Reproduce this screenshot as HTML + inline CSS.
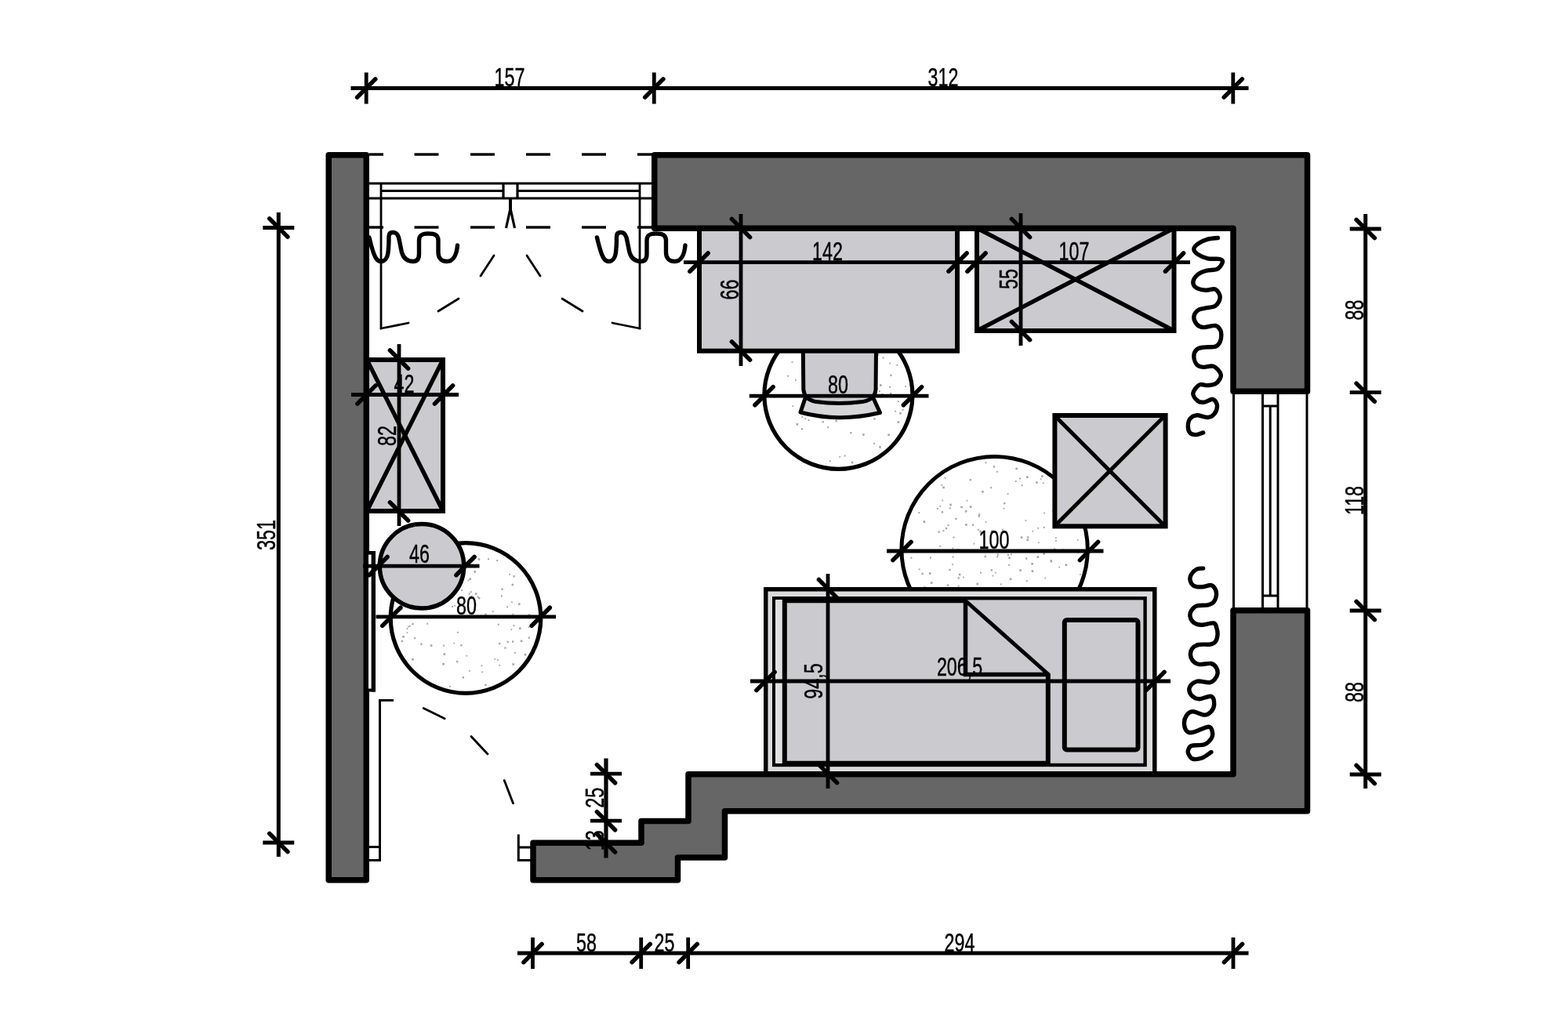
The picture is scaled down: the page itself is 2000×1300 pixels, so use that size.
<!DOCTYPE html>
<html lang="en"><head><meta charset="utf-8"><title>Floor plan</title>
<style>html,body{margin:0;padding:0;background:#fff;}body{width:2000px;height:1300px;}svg{display:block;will-change:transform;}</style>
</head><body>
<svg width="2000" height="1300" viewBox="0 0 2000 1300" font-family="'Liberation Sans', sans-serif" fill="#000">
<rect width="2000" height="1300" fill="#fff"/>
<circle cx="594" cy="788.5" r="95.8" fill="#fff" stroke="none"/>
<g fill="#a6a6a6">
<rect x="578.4" y="819.7" width="1.8" height="1.8"/>
<rect x="653.0" y="817.4" width="2.3" height="2.3"/>
<rect x="519.7" y="745.9" width="2.0" height="2.0"/>
<rect x="651.5" y="802.3" width="1.8" height="1.8"/>
<rect x="597.9" y="855.0" width="1.8" height="1.8"/>
<rect x="608.7" y="760.5" width="2.0" height="2.0"/>
<rect x="547.3" y="738.3" width="1.8" height="1.8"/>
<rect x="543.9" y="762.2" width="2.0" height="2.0"/>
<rect x="673.7" y="812.5" width="2.3" height="2.3"/>
<rect x="536.3" y="820.6" width="2.3" height="2.3"/>
<rect x="525.1" y="761.1" width="1.8" height="1.8"/>
<rect x="531.5" y="753.3" width="2.3" height="2.3"/>
<rect x="656.0" y="832.0" width="1.8" height="1.8"/>
<rect x="547.6" y="745.5" width="2.6" height="2.6"/>
<rect x="604.4" y="728.1" width="2.6" height="2.6"/>
<rect x="565.1" y="822.7" width="2.0" height="2.0"/>
<rect x="580.0" y="746.4" width="2.3" height="2.3"/>
<rect x="511.0" y="775.3" width="2.6" height="2.6"/>
<rect x="573.0" y="874.9" width="1.8" height="1.8"/>
<rect x="557.6" y="785.8" width="2.3" height="2.3"/>
<rect x="630.3" y="839.8" width="1.8" height="1.8"/>
<rect x="618.3" y="782.6" width="2.3" height="2.3"/>
<rect x="565.5" y="833.3" width="2.6" height="2.6"/>
<rect x="540.8" y="759.3" width="1.8" height="1.8"/>
<rect x="652.1" y="767.4" width="1.8" height="1.8"/>
<rect x="663.8" y="816.5" width="2.6" height="2.6"/>
<rect x="582.0" y="843.0" width="2.3" height="2.3"/>
<rect x="654.4" y="797.1" width="2.0" height="2.0"/>
<rect x="545.6" y="748.0" width="2.0" height="2.0"/>
<rect x="597.7" y="756.4" width="2.0" height="2.0"/>
<rect x="525.1" y="840.0" width="2.6" height="2.6"/>
<rect x="646.6" y="817.7" width="2.3" height="2.3"/>
<rect x="654.4" y="734.1" width="2.3" height="2.3"/>
<rect x="569.9" y="702.6" width="2.6" height="2.6"/>
<rect x="627.7" y="779.3" width="2.0" height="2.0"/>
<rect x="636.4" y="847.8" width="1.8" height="1.8"/>
<rect x="525.4" y="795.0" width="2.3" height="2.3"/>
<rect x="587.2" y="822.1" width="2.3" height="2.3"/>
<rect x="554.9" y="756.2" width="2.0" height="2.0"/>
<rect x="570.5" y="728.5" width="1.8" height="1.8"/>
<rect x="513.3" y="811.0" width="2.6" height="2.6"/>
<rect x="548.8" y="822.2" width="2.6" height="2.6"/>
<rect x="579.1" y="771.8" width="1.8" height="1.8"/>
<rect x="653.3" y="782.8" width="1.8" height="1.8"/>
<rect x="583.0" y="805.9" width="1.8" height="1.8"/>
<rect x="533.9" y="761.7" width="2.3" height="2.3"/>
<rect x="576.0" y="772.9" width="2.0" height="2.0"/>
<rect x="567.9" y="765.8" width="2.3" height="2.3"/>
<rect x="661.0" y="769.3" width="2.6" height="2.6"/>
<rect x="653.3" y="846.2" width="2.6" height="2.6"/>
<rect x="544.2" y="794.7" width="2.0" height="2.0"/>
<rect x="636.1" y="820.0" width="2.3" height="2.3"/>
<rect x="520.0" y="798.5" width="1.8" height="1.8"/>
<rect x="618.3" y="872.7" width="2.3" height="2.3"/>
<rect x="634.0" y="841.2" width="1.8" height="1.8"/>
<rect x="596.5" y="739.5" width="1.8" height="1.8"/>
<rect x="578.8" y="745.2" width="2.3" height="2.3"/>
<rect x="638.9" y="759.3" width="2.0" height="2.0"/>
<rect x="516.4" y="772.4" width="2.3" height="2.3"/>
<rect x="548.0" y="735.3" width="2.0" height="2.0"/>
<rect x="622.0" y="712.3" width="2.0" height="2.0"/>
<rect x="613.5" y="848.4" width="1.8" height="1.8"/>
<rect x="673.7" y="783.3" width="2.6" height="2.6"/>
<rect x="589.7" y="863.1" width="2.3" height="2.3"/>
<rect x="511.8" y="816.8" width="2.3" height="2.3"/>
<rect x="646.1" y="773.4" width="2.0" height="2.0"/>
<rect x="643.3" y="825.4" width="2.3" height="2.3"/>
<rect x="614.1" y="856.5" width="1.8" height="1.8"/>
<rect x="522.0" y="797.8" width="1.8" height="1.8"/>
<rect x="609.8" y="761.7" width="2.6" height="2.6"/>
<rect x="609.7" y="712.3" width="2.6" height="2.6"/>
<rect x="639.3" y="750.5" width="2.3" height="2.3"/>
<rect x="668.7" y="833.8" width="2.6" height="2.6"/>
<rect x="518.6" y="806.3" width="1.8" height="1.8"/>
<rect x="588.2" y="751.9" width="2.0" height="2.0"/>
<rect x="662.0" y="800.4" width="2.6" height="2.6"/>
<rect x="605.9" y="756.3" width="2.6" height="2.6"/>
<rect x="564.8" y="744.1" width="2.0" height="2.0"/>
<rect x="673.6" y="799.3" width="1.8" height="1.8"/>
<rect x="508.4" y="774.1" width="2.6" height="2.6"/>
<rect x="633.5" y="785.2" width="2.0" height="2.0"/>
<rect x="634.8" y="795.7" width="2.0" height="2.0"/>
<rect x="598.4" y="737.4" width="2.6" height="2.6"/>
<rect x="605.2" y="769.4" width="2.3" height="2.3"/>
<rect x="652.5" y="744.7" width="2.6" height="2.6"/>
<rect x="633.2" y="714.0" width="2.0" height="2.0"/>
<rect x="530.3" y="775.6" width="1.8" height="1.8"/>
<rect x="649.2" y="731.8" width="1.8" height="1.8"/>
<rect x="599.7" y="754.2" width="2.0" height="2.0"/>
<rect x="518.6" y="801.2" width="1.8" height="1.8"/>
<rect x="564.3" y="845.9" width="2.6" height="2.6"/>
<rect x="600.3" y="759.9" width="1.8" height="1.8"/>
<rect x="594.4" y="835.8" width="1.8" height="1.8"/>
<rect x="526.8" y="785.2" width="1.8" height="1.8"/>
<rect x="528.1" y="813.0" width="2.0" height="2.0"/>
</g>
<circle cx="594" cy="788.5" r="95.8" fill="none" stroke="#000" stroke-width="5.2"/>
<circle cx="1069.4" cy="503.9" r="94.5" fill="#fff" stroke="none"/>
<g fill="#a6a6a6">
<rect x="1048.4" y="448.2" width="2.6" height="2.6"/>
<rect x="1025.4" y="501.8" width="2.3" height="2.3"/>
<rect x="1143.4" y="464.9" width="2.0" height="2.0"/>
<rect x="1087.0" y="476.2" width="1.8" height="1.8"/>
<rect x="1030.6" y="535.0" width="2.0" height="2.0"/>
<rect x="1032.7" y="521.7" width="2.3" height="2.3"/>
<rect x="1087.1" y="422.0" width="2.0" height="2.0"/>
<rect x="1135.3" y="477.6" width="2.3" height="2.3"/>
<rect x="1121.2" y="569.0" width="2.6" height="2.6"/>
<rect x="1085.8" y="588.7" width="2.6" height="2.6"/>
<rect x="1096.2" y="480.3" width="2.0" height="2.0"/>
<rect x="1100.1" y="553.3" width="2.6" height="2.6"/>
<rect x="1048.6" y="537.1" width="2.3" height="2.3"/>
<rect x="1114.2" y="533.2" width="2.3" height="2.3"/>
<rect x="1014.0" y="484.3" width="1.8" height="1.8"/>
<rect x="1021.8" y="546.2" width="2.3" height="2.3"/>
<rect x="1047.0" y="502.2" width="2.0" height="2.0"/>
<rect x="1097.6" y="498.8" width="2.3" height="2.3"/>
<rect x="1057.8" y="587.3" width="2.0" height="2.0"/>
<rect x="1065.3" y="535.5" width="2.6" height="2.6"/>
<rect x="1112.0" y="444.9" width="2.3" height="2.3"/>
<rect x="1015.6" y="540.0" width="2.6" height="2.6"/>
<rect x="1061.3" y="478.7" width="1.8" height="1.8"/>
<rect x="1081.0" y="467.8" width="1.8" height="1.8"/>
<rect x="1068.0" y="515.3" width="1.8" height="1.8"/>
<rect x="1077.6" y="479.6" width="2.0" height="2.0"/>
<rect x="1144.5" y="537.3" width="2.6" height="2.6"/>
<rect x="1157.4" y="510.3" width="2.6" height="2.6"/>
<rect x="1110.4" y="483.5" width="2.0" height="2.0"/>
<rect x="1141.2" y="523.9" width="1.8" height="1.8"/>
<rect x="1113.8" y="495.2" width="2.0" height="2.0"/>
<rect x="1084.2" y="551.1" width="2.3" height="2.3"/>
<rect x="1030.0" y="496.1" width="2.6" height="2.6"/>
<rect x="1032.1" y="503.9" width="2.3" height="2.3"/>
<rect x="1098.6" y="420.6" width="1.8" height="1.8"/>
<rect x="1144.8" y="511.2" width="2.0" height="2.0"/>
<rect x="1025.7" y="500.0" width="2.6" height="2.6"/>
<rect x="1132.3" y="553.5" width="2.6" height="2.6"/>
<rect x="1033.2" y="449.5" width="2.6" height="2.6"/>
<rect x="1117.6" y="494.8" width="2.0" height="2.0"/>
<rect x="1120.9" y="498.2" width="2.0" height="2.0"/>
<rect x="1026.3" y="533.3" width="1.8" height="1.8"/>
<rect x="1074.9" y="494.9" width="2.3" height="2.3"/>
<rect x="1050.5" y="512.7" width="2.6" height="2.6"/>
<rect x="1119.2" y="451.2" width="2.3" height="2.3"/>
<rect x="1009.5" y="461.1" width="1.8" height="1.8"/>
<rect x="1035.4" y="512.8" width="2.6" height="2.6"/>
<rect x="1122.8" y="505.1" width="2.3" height="2.3"/>
<rect x="1133.9" y="492.7" width="2.0" height="2.0"/>
<rect x="1150.6" y="521.8" width="2.0" height="2.0"/>
<rect x="1067.6" y="506.2" width="2.6" height="2.6"/>
<rect x="1109.8" y="527.4" width="2.0" height="2.0"/>
<rect x="1070.3" y="581.9" width="1.8" height="1.8"/>
<rect x="1067.0" y="530.3" width="2.6" height="2.6"/>
<rect x="1021.9" y="475.1" width="2.3" height="2.3"/>
<rect x="1055.1" y="544.1" width="2.0" height="2.0"/>
<rect x="1028.3" y="441.3" width="2.6" height="2.6"/>
<rect x="1076.1" y="429.1" width="2.6" height="2.6"/>
<rect x="1113.9" y="564.7" width="2.0" height="2.0"/>
<rect x="1147.2" y="525.9" width="2.6" height="2.6"/>
<rect x="1061.3" y="424.6" width="2.0" height="2.0"/>
<rect x="1134.2" y="462.7" width="1.8" height="1.8"/>
<rect x="1100.6" y="443.9" width="2.0" height="2.0"/>
<rect x="1085.0" y="513.1" width="2.3" height="2.3"/>
<rect x="1122.0" y="490.2" width="2.6" height="2.6"/>
<rect x="1004.0" y="478.7" width="2.0" height="2.0"/>
<rect x="1064.3" y="504.2" width="1.8" height="1.8"/>
<rect x="1068.7" y="441.1" width="1.8" height="1.8"/>
<rect x="1057.1" y="484.7" width="2.6" height="2.6"/>
<rect x="1069.1" y="528.0" width="2.3" height="2.3"/>
<rect x="1076.7" y="580.5" width="2.0" height="2.0"/>
<rect x="1063.8" y="416.7" width="2.6" height="2.6"/>
<rect x="1083.2" y="483.7" width="2.3" height="2.3"/>
<rect x="1076.8" y="434.8" width="2.0" height="2.0"/>
<rect x="1099.4" y="519.8" width="2.3" height="2.3"/>
<rect x="1026.7" y="443.9" width="2.0" height="2.0"/>
<rect x="1091.1" y="505.6" width="2.3" height="2.3"/>
<rect x="1096.9" y="499.1" width="2.0" height="2.0"/>
<rect x="1047.9" y="461.3" width="2.3" height="2.3"/>
<rect x="1010.4" y="517.2" width="1.8" height="1.8"/>
<rect x="1134.9" y="501.1" width="2.3" height="2.3"/>
<rect x="1154.2" y="492.2" width="1.8" height="1.8"/>
<rect x="1063.4" y="527.6" width="2.6" height="2.6"/>
<rect x="1124.4" y="501.8" width="2.0" height="2.0"/>
<rect x="1093.1" y="515.9" width="2.3" height="2.3"/>
<rect x="1100.2" y="494.5" width="2.3" height="2.3"/>
<rect x="1125.6" y="455.5" width="2.0" height="2.0"/>
<rect x="986.6" y="505.0" width="2.6" height="2.6"/>
<rect x="1074.6" y="504.7" width="2.6" height="2.6"/>
<rect x="1045.9" y="452.7" width="2.0" height="2.0"/>
<rect x="1022.5" y="531.2" width="1.8" height="1.8"/>
<rect x="1071.4" y="500.8" width="2.3" height="2.3"/>
<rect x="1085.7" y="477.9" width="2.0" height="2.0"/>
<rect x="1050.1" y="422.1" width="2.3" height="2.3"/>
<rect x="1068.9" y="526.5" width="2.6" height="2.6"/>
</g>
<circle cx="1069.4" cy="503.9" r="94.5" fill="none" stroke="#000" stroke-width="5.2"/>
<circle cx="1268.6" cy="701.1" r="118.7" fill="#fff" stroke="none"/>
<g fill="#a6a6a6">
<rect x="1355.1" y="700.4" width="2.3" height="2.3"/>
<rect x="1356.0" y="656.9" width="1.8" height="1.8"/>
<rect x="1263.7" y="726.2" width="2.3" height="2.3"/>
<rect x="1239.8" y="668.5" width="2.3" height="2.3"/>
<rect x="1210.3" y="725.8" width="2.3" height="2.3"/>
<rect x="1284.7" y="629.2" width="1.8" height="1.8"/>
<rect x="1302.6" y="618.3" width="2.0" height="2.0"/>
<rect x="1263.8" y="676.5" width="2.6" height="2.6"/>
<rect x="1175.4" y="730.8" width="2.3" height="2.3"/>
<rect x="1161.4" y="710.8" width="2.0" height="2.0"/>
<rect x="1303.3" y="764.9" width="2.3" height="2.3"/>
<rect x="1240.0" y="793.7" width="2.3" height="2.3"/>
<rect x="1222.8" y="731.7" width="2.6" height="2.6"/>
<rect x="1202.4" y="676.2" width="2.0" height="2.0"/>
<rect x="1249.4" y="676.9" width="2.6" height="2.6"/>
<rect x="1196.5" y="677.5" width="2.3" height="2.3"/>
<rect x="1344.2" y="699.4" width="2.0" height="2.0"/>
<rect x="1215.4" y="684.6" width="2.0" height="2.0"/>
<rect x="1250.0" y="729.6" width="2.0" height="2.0"/>
<rect x="1200.0" y="775.7" width="2.0" height="2.0"/>
<rect x="1342.7" y="637.6" width="2.6" height="2.6"/>
<rect x="1196.5" y="766.5" width="2.0" height="2.0"/>
<rect x="1221.7" y="746.9" width="1.8" height="1.8"/>
<rect x="1183.2" y="702.1" width="2.3" height="2.3"/>
<rect x="1324.8" y="758.0" width="2.0" height="2.0"/>
<rect x="1357.8" y="759.7" width="2.6" height="2.6"/>
<rect x="1207.8" y="745.4" width="2.3" height="2.3"/>
<rect x="1329.8" y="615.4" width="1.8" height="1.8"/>
<rect x="1319.8" y="753.8" width="2.6" height="2.6"/>
<rect x="1345.9" y="685.5" width="1.8" height="1.8"/>
<rect x="1184.3" y="769.5" width="2.6" height="2.6"/>
<rect x="1323.9" y="691.4" width="1.8" height="1.8"/>
<rect x="1275.8" y="744.5" width="1.8" height="1.8"/>
<rect x="1357.9" y="666.7" width="2.6" height="2.6"/>
<rect x="1354.1" y="751.7" width="1.8" height="1.8"/>
<rect x="1279.6" y="647.9" width="1.8" height="1.8"/>
<rect x="1230.7" y="651.9" width="2.0" height="2.0"/>
<rect x="1211.2" y="642.6" width="2.6" height="2.6"/>
<rect x="1256.6" y="665.3" width="1.8" height="1.8"/>
<rect x="1234.5" y="805.1" width="2.0" height="2.0"/>
<rect x="1228.0" y="735.6" width="1.8" height="1.8"/>
<rect x="1330.4" y="705.2" width="2.6" height="2.6"/>
<rect x="1257.3" y="763.5" width="2.0" height="2.0"/>
<rect x="1214.6" y="709.5" width="2.0" height="2.0"/>
<rect x="1339.7" y="714.3" width="2.3" height="2.3"/>
<rect x="1315.3" y="718.0" width="2.6" height="2.6"/>
<rect x="1315.6" y="727.3" width="2.6" height="2.6"/>
<rect x="1316.4" y="676.8" width="1.8" height="1.8"/>
<rect x="1236.7" y="611.1" width="2.3" height="2.3"/>
<rect x="1248.0" y="655.4" width="2.3" height="2.3"/>
<rect x="1263.1" y="621.2" width="2.0" height="2.0"/>
<rect x="1218.2" y="702.5" width="2.0" height="2.0"/>
<rect x="1275.0" y="753.7" width="2.3" height="2.3"/>
<rect x="1337.5" y="757.4" width="2.0" height="2.0"/>
<rect x="1331.1" y="653.6" width="1.8" height="1.8"/>
<rect x="1309.5" y="687.5" width="2.6" height="2.6"/>
<rect x="1284.9" y="706.9" width="2.0" height="2.0"/>
<rect x="1186.8" y="749.2" width="2.0" height="2.0"/>
<rect x="1184.9" y="767.4" width="2.3" height="2.3"/>
<rect x="1256.4" y="589.2" width="2.0" height="2.0"/>
<rect x="1245.4" y="743.7" width="2.6" height="2.6"/>
<rect x="1358.6" y="719.4" width="2.6" height="2.6"/>
<rect x="1328.0" y="606.3" width="2.6" height="2.6"/>
<rect x="1271.5" y="706.4" width="2.3" height="2.3"/>
<rect x="1332.4" y="736.6" width="1.8" height="1.8"/>
<rect x="1177.6" y="664.3" width="2.6" height="2.6"/>
<rect x="1205.2" y="781.2" width="2.6" height="2.6"/>
<rect x="1349.2" y="750.7" width="2.0" height="2.0"/>
<rect x="1193.3" y="778.6" width="2.0" height="2.0"/>
<rect x="1225.6" y="787.8" width="2.6" height="2.6"/>
<rect x="1339.5" y="714.8" width="2.6" height="2.6"/>
<rect x="1289.0" y="706.4" width="1.8" height="1.8"/>
<rect x="1277.8" y="674.6" width="2.0" height="2.0"/>
<rect x="1266.8" y="594.3" width="2.3" height="2.3"/>
<rect x="1226.1" y="750.6" width="1.8" height="1.8"/>
<rect x="1261.3" y="796.2" width="2.3" height="2.3"/>
<rect x="1323.2" y="672.9" width="1.8" height="1.8"/>
<rect x="1322.5" y="709.4" width="2.6" height="2.6"/>
<rect x="1252.1" y="626.0" width="2.6" height="2.6"/>
<rect x="1295.3" y="596.7" width="2.6" height="2.6"/>
<rect x="1322.0" y="759.9" width="1.8" height="1.8"/>
<rect x="1300.0" y="609.5" width="2.0" height="2.0"/>
<rect x="1218.2" y="660.8" width="2.3" height="2.3"/>
<rect x="1171.8" y="725.4" width="1.8" height="1.8"/>
<rect x="1198.3" y="695.8" width="2.0" height="2.0"/>
<rect x="1269.1" y="729.8" width="1.8" height="1.8"/>
<rect x="1186.0" y="710.6" width="2.0" height="2.0"/>
<rect x="1373.7" y="688.0" width="1.8" height="1.8"/>
<rect x="1265.5" y="733.6" width="1.8" height="1.8"/>
<rect x="1170.1" y="754.4" width="2.6" height="2.6"/>
<rect x="1287.7" y="737.5" width="2.6" height="2.6"/>
<rect x="1201.3" y="637.6" width="1.8" height="1.8"/>
<rect x="1280.0" y="641.1" width="2.3" height="2.3"/>
<rect x="1205.8" y="673.0" width="2.3" height="2.3"/>
<rect x="1286.2" y="754.3" width="2.0" height="2.0"/>
<rect x="1274.0" y="760.6" width="2.0" height="2.0"/>
<rect x="1235.9" y="764.0" width="2.0" height="2.0"/>
<rect x="1214.4" y="698.6" width="1.8" height="1.8"/>
<rect x="1204.6" y="609.0" width="1.8" height="1.8"/>
<rect x="1374.4" y="704.1" width="2.0" height="2.0"/>
<rect x="1326.7" y="610.3" width="1.8" height="1.8"/>
<rect x="1307.5" y="663.1" width="1.8" height="1.8"/>
<rect x="1309.8" y="804.3" width="2.0" height="2.0"/>
<rect x="1330.8" y="671.9" width="2.0" height="2.0"/>
<rect x="1214.1" y="719.2" width="1.8" height="1.8"/>
<rect x="1337.1" y="754.8" width="2.3" height="2.3"/>
<rect x="1282.4" y="768.1" width="2.0" height="2.0"/>
<rect x="1377.0" y="732.0" width="1.8" height="1.8"/>
<rect x="1194.8" y="647.9" width="2.0" height="2.0"/>
<rect x="1309.0" y="607.4" width="2.6" height="2.6"/>
<rect x="1247.5" y="657.4" width="2.3" height="2.3"/>
<rect x="1286.2" y="710.5" width="2.6" height="2.6"/>
<rect x="1241.5" y="692.7" width="1.8" height="1.8"/>
<rect x="1294.7" y="613.0" width="2.0" height="2.0"/>
<rect x="1246.8" y="675.0" width="2.0" height="2.0"/>
<rect x="1221.6" y="736.3" width="2.3" height="2.3"/>
<rect x="1232.6" y="637.7" width="1.8" height="1.8"/>
<rect x="1236.2" y="779.5" width="2.3" height="2.3"/>
<rect x="1255.6" y="708.9" width="2.3" height="2.3"/>
<rect x="1225.2" y="645.6" width="2.6" height="2.6"/>
<rect x="1271.1" y="709.4" width="2.0" height="2.0"/>
<rect x="1178.0" y="748.2" width="2.6" height="2.6"/>
<rect x="1208.5" y="669.1" width="2.0" height="2.0"/>
<rect x="1286.1" y="719.8" width="2.0" height="2.0"/>
<rect x="1200.4" y="618.0" width="1.8" height="1.8"/>
<rect x="1171.3" y="653.1" width="2.0" height="2.0"/>
<rect x="1305.1" y="748.7" width="2.0" height="2.0"/>
<rect x="1301.8" y="684.3" width="2.6" height="2.6"/>
<rect x="1270.8" y="600.8" width="2.0" height="2.0"/>
<rect x="1235.7" y="798.8" width="1.8" height="1.8"/>
<rect x="1346.0" y="689.1" width="1.8" height="1.8"/>
<rect x="1198.5" y="644.8" width="1.8" height="1.8"/>
<rect x="1341.8" y="650.8" width="2.0" height="2.0"/>
<rect x="1202.3" y="620.6" width="2.6" height="2.6"/>
<rect x="1231.1" y="668.2" width="2.6" height="2.6"/>
<rect x="1290.1" y="749.1" width="2.6" height="2.6"/>
<rect x="1309.9" y="684.3" width="2.3" height="2.3"/>
<rect x="1308.7" y="740.2" width="2.0" height="2.0"/>
<rect x="1350.3" y="722.7" width="1.8" height="1.8"/>
<rect x="1236.9" y="645.3" width="2.6" height="2.6"/>
<rect x="1200.8" y="652.2" width="2.3" height="2.3"/>
<rect x="1231.5" y="650.7" width="2.0" height="2.0"/>
<rect x="1186.9" y="742.3" width="2.6" height="2.6"/>
<rect x="1221.0" y="700.0" width="1.8" height="1.8"/>
<rect x="1210.7" y="647.5" width="2.0" height="2.0"/>
<rect x="1184.9" y="730.2" width="2.6" height="2.6"/>
<rect x="1321.1" y="614.3" width="2.6" height="2.6"/>
<rect x="1300.2" y="726.3" width="2.6" height="2.6"/>
<rect x="1201.7" y="776.7" width="1.8" height="1.8"/>
<rect x="1308.0" y="711.4" width="2.3" height="2.3"/>
</g>
<circle cx="1268.6" cy="701.1" r="118.7" fill="none" stroke="#000" stroke-width="5"/>
<circle cx="538" cy="722.3" r="53.7" fill="#cbcbcf" stroke="#000" stroke-width="5.5"/>
<path d="M1027,508 L1021,526 Q1069,539 1122.5,526.5 L1114,508 Z" fill="#d6d6d8" stroke="#000" stroke-width="5" stroke-linejoin="round"/>
<path d="M1024.3,447 L1024.8,497 Q1026,510 1041,512.6 Q1070,516.5 1100,512.6 Q1116,510 1117,497 L1117.5,447 Z" fill="#cbcbcf" stroke="#000" stroke-width="5" stroke-linejoin="round"/>
<rect x="892.00" y="291.00" width="329.00" height="156.70" fill="#cbcbcf" stroke="#000" stroke-width="6" rx="0"/>
<rect x="1246.00" y="291.00" width="251.50" height="131.00" fill="#cbcbcf" stroke="#000" stroke-width="6" rx="0"/>
<line x1="1246.00" y1="291.00" x2="1497.50" y2="422.00" stroke="#000" stroke-width="5.4" stroke-linecap="butt" />
<line x1="1497.50" y1="291.00" x2="1246.00" y2="422.00" stroke="#000" stroke-width="5.4" stroke-linecap="butt" />
<rect x="1345.40" y="530.00" width="141.20" height="141.40" fill="#cbcbcf" stroke="#000" stroke-width="6" rx="0"/>
<line x1="1345.00" y1="530.00" x2="1486.20" y2="671.40" stroke="#000" stroke-width="5" stroke-linecap="butt" />
<line x1="1486.20" y1="530.00" x2="1345.00" y2="671.40" stroke="#000" stroke-width="5" stroke-linecap="butt" />
<rect x="468.00" y="459.00" width="97.00" height="193.00" fill="#cbcbcf" stroke="#000" stroke-width="6" rx="0"/>
<line x1="468.00" y1="459.00" x2="565.00" y2="652.00" stroke="#000" stroke-width="5.4" stroke-linecap="butt" />
<line x1="565.00" y1="459.00" x2="468.00" y2="652.00" stroke="#000" stroke-width="5.4" stroke-linecap="butt" />
<rect x="976.75" y="751.75" width="496.00" height="235.50" fill="#dcdcdc" stroke="#000" stroke-width="5.5" rx="0"/>
<rect x="987.20" y="763.20" width="473.40" height="212.80" fill="#cbcbcf" stroke="#000" stroke-width="4.4" rx="0"/>
<rect x="989" y="765" width="9.5" height="209" fill="#e0e0e2"/>
<path d="M1232.00,766.30 L1000.80,766.30 L1000.80,973.80 L1336.80,973.80 L1336.80,860.50" fill="none" stroke="#000" stroke-width="6" stroke-linejoin="miter"/>
<path d="M1231.50,766.00 L1231.50,860.50 L1338.00,860.50" fill="none" stroke="#000" stroke-width="5.5" stroke-linejoin="miter"/>
<line x1="1231.00" y1="766.00" x2="1338.50" y2="861.50" stroke="#000" stroke-width="5" stroke-linecap="butt" />
<rect x="1357.80" y="791.00" width="93.70" height="165.60" fill="#cbcbcf" stroke="#000" stroke-width="6" rx="3"/>
<path d="M419.25,197.75 L467.25,197.75 L467.25,1122.75 L419.25,1122.75 Z" fill="#666666" stroke="#000" stroke-width="7.5" stroke-linejoin="round"/>
<path d="M834.75,197.75 L1667.50,197.75 L1667.50,499.25 L1573.00,499.25 L1573.00,291.25 L834.75,291.25 Z" fill="#666666" stroke="#000" stroke-width="7.5" stroke-linejoin="round"/>
<path d="M680.00,1075.25 L818.00,1075.25 L818.00,1047.50 L878.00,1047.50 L878.00,987.75 L1573.00,987.75 L1573.00,778.75 L1667.50,778.75 L1667.50,1034.65 L924.50,1034.65 L924.50,1094.00 L864.50,1094.00 L864.50,1122.75 L680.00,1122.75 Z" fill="#666666" stroke="#000" stroke-width="7.5" stroke-linejoin="round"/>
<line x1="471.00" y1="197.00" x2="489.00" y2="197.00" stroke="#000" stroke-width="3.4" stroke-linecap="butt" />
<line x1="528.50" y1="197.00" x2="559.50" y2="197.00" stroke="#000" stroke-width="3.4" stroke-linecap="butt" />
<line x1="600.00" y1="197.00" x2="631.00" y2="197.00" stroke="#000" stroke-width="3.4" stroke-linecap="butt" />
<line x1="671.00" y1="197.00" x2="702.00" y2="197.00" stroke="#000" stroke-width="3.4" stroke-linecap="butt" />
<line x1="742.00" y1="197.00" x2="773.00" y2="197.00" stroke="#000" stroke-width="3.4" stroke-linecap="butt" />
<line x1="813.00" y1="197.00" x2="832.00" y2="197.00" stroke="#000" stroke-width="3.4" stroke-linecap="butt" />
<line x1="471.00" y1="290.00" x2="489.00" y2="290.00" stroke="#000" stroke-width="3.4" stroke-linecap="butt" />
<line x1="528.50" y1="290.00" x2="559.50" y2="290.00" stroke="#000" stroke-width="3.4" stroke-linecap="butt" />
<line x1="600.00" y1="290.00" x2="631.00" y2="290.00" stroke="#000" stroke-width="3.4" stroke-linecap="butt" />
<line x1="671.00" y1="290.00" x2="702.00" y2="290.00" stroke="#000" stroke-width="3.4" stroke-linecap="butt" />
<line x1="742.00" y1="290.00" x2="773.00" y2="290.00" stroke="#000" stroke-width="3.4" stroke-linecap="butt" />
<line x1="813.00" y1="290.00" x2="832.00" y2="290.00" stroke="#000" stroke-width="3.4" stroke-linecap="butt" />
<line x1="471.00" y1="234.00" x2="832.00" y2="234.00" stroke="#000" stroke-width="3.2" stroke-linecap="butt" />
<line x1="471.00" y1="253.00" x2="832.00" y2="253.00" stroke="#000" stroke-width="3.2" stroke-linecap="butt" />
<line x1="486.00" y1="243.50" x2="642.00" y2="243.50" stroke="#000" stroke-width="3.2" stroke-linecap="butt" />
<line x1="660.00" y1="243.50" x2="816.00" y2="243.50" stroke="#000" stroke-width="3.2" stroke-linecap="butt" />
<line x1="642.00" y1="233.00" x2="642.00" y2="254.00" stroke="#000" stroke-width="3.2" stroke-linecap="butt" />
<line x1="660.00" y1="233.00" x2="660.00" y2="254.00" stroke="#000" stroke-width="3.2" stroke-linecap="butt" />
<line x1="486.00" y1="234.00" x2="486.00" y2="420.30" stroke="#000" stroke-width="2.8" stroke-linecap="butt" />
<line x1="816.00" y1="234.00" x2="816.00" y2="420.30" stroke="#000" stroke-width="2.8" stroke-linecap="butt" />
<line x1="651.00" y1="254.00" x2="651.00" y2="268.00" stroke="#000" stroke-width="4" stroke-linecap="butt" />
<line x1="651.00" y1="266.00" x2="645.50" y2="291.00" stroke="#000" stroke-width="3.2" stroke-linecap="butt" />
<line x1="651.00" y1="266.00" x2="656.50" y2="291.00" stroke="#000" stroke-width="3.2" stroke-linecap="butt" />
<line x1="486.00" y1="419.00" x2="521.00" y2="412.00" stroke="#000" stroke-width="2.8" stroke-linecap="round" />
<line x1="816.00" y1="419.00" x2="781.00" y2="412.00" stroke="#000" stroke-width="2.8" stroke-linecap="round" />
<line x1="559.00" y1="397.00" x2="585.00" y2="381.00" stroke="#000" stroke-width="2.8" stroke-linecap="round" />
<line x1="743.00" y1="397.00" x2="717.00" y2="381.00" stroke="#000" stroke-width="2.8" stroke-linecap="round" />
<line x1="613.00" y1="352.00" x2="630.00" y2="326.00" stroke="#000" stroke-width="2.8" stroke-linecap="round" />
<line x1="689.00" y1="352.00" x2="672.00" y2="326.00" stroke="#000" stroke-width="2.8" stroke-linecap="round" />
<rect x="470" y="703" width="9" height="179.5" fill="#fff"/>
<line x1="476.30" y1="703.00" x2="476.30" y2="882.50" stroke="#000" stroke-width="5.4" stroke-linecap="butt" />
<line x1="470.00" y1="705.30" x2="479.00" y2="705.30" stroke="#000" stroke-width="4.6" stroke-linecap="butt" />
<line x1="470.00" y1="880.50" x2="479.00" y2="880.50" stroke="#000" stroke-width="4" stroke-linecap="butt" />
<line x1="484.50" y1="892.00" x2="484.50" y2="1099.00" stroke="#000" stroke-width="3" stroke-linecap="butt" />
<line x1="483.00" y1="893.40" x2="502.00" y2="893.40" stroke="#000" stroke-width="3" stroke-linecap="butt" />
<line x1="471.00" y1="1080.50" x2="486.00" y2="1080.50" stroke="#000" stroke-width="3" stroke-linecap="butt" />
<line x1="471.00" y1="1097.50" x2="486.00" y2="1097.50" stroke="#000" stroke-width="3" stroke-linecap="butt" />
<line x1="540.20" y1="903.50" x2="567.20" y2="916.70" stroke="#000" stroke-width="2.8" stroke-linecap="round" />
<line x1="601.00" y1="939.50" x2="622.00" y2="962.00" stroke="#000" stroke-width="2.8" stroke-linecap="round" />
<line x1="643.20" y1="995.60" x2="654.50" y2="1024.80" stroke="#000" stroke-width="2.8" stroke-linecap="round" />
<line x1="661.30" y1="1064.50" x2="661.30" y2="1099.00" stroke="#000" stroke-width="3" stroke-linecap="butt" />
<line x1="661.00" y1="1081.00" x2="678.00" y2="1081.00" stroke="#000" stroke-width="3" stroke-linecap="butt" />
<line x1="661.00" y1="1097.50" x2="678.00" y2="1097.50" stroke="#000" stroke-width="3" stroke-linecap="butt" />
<line x1="1573.50" y1="503.00" x2="1573.50" y2="776.00" stroke="#000" stroke-width="3" stroke-linecap="butt" />
<line x1="1667.00" y1="503.00" x2="1667.00" y2="776.00" stroke="#000" stroke-width="3" stroke-linecap="butt" />
<line x1="1610.50" y1="503.00" x2="1610.50" y2="776.00" stroke="#000" stroke-width="3" stroke-linecap="butt" />
<line x1="1630.00" y1="503.00" x2="1630.00" y2="776.00" stroke="#000" stroke-width="3" stroke-linecap="butt" />
<line x1="1620.20" y1="518.00" x2="1620.20" y2="760.00" stroke="#000" stroke-width="3" stroke-linecap="butt" />
<line x1="1610.50" y1="518.00" x2="1630.00" y2="518.00" stroke="#000" stroke-width="3" stroke-linecap="butt" />
<line x1="1610.50" y1="760.00" x2="1630.00" y2="760.00" stroke="#000" stroke-width="3" stroke-linecap="butt" />
<path transform="translate(0,0)" d="M471,303 C474,316 477,326 480,330 C482,333 484,333.5 486,333.5 C490,333.5 494,330 495,322 C496,314 496,306 496,302 C496,298 498,296.5 501,296.5 C505,296.5 507,298 508.5,303 C510,309 511,316 512.5,322 C514.5,329 519,333.5 527,333.5 C532,333.5 534.5,330 534.5,324 L534.5,307 C534.5,300 538,298 546,298 C555,298 559,300 559,307 L559,322 C559,329 563,333.5 570,333.5 C578,333.5 582.5,325 583.5,313" fill="none" stroke="#000" stroke-width="5.4" stroke-linecap="round" stroke-linejoin="round"/>
<path transform="translate(290.5,0)" d="M471,303 C474,316 477,326 480,330 C482,333 484,333.5 486,333.5 C490,333.5 494,330 495,322 C496,314 496,306 496,302 C496,298 498,296.5 501,296.5 C505,296.5 507,298 508.5,303 C510,309 511,316 512.5,322 C514.5,329 519,333.5 527,333.5 C532,333.5 534.5,330 534.5,324 L534.5,307 C534.5,300 538,298 546,298 C555,298 559,300 559,307 L559,322 C559,329 563,333.5 570,333.5 C578,333.5 582.5,325 583.5,313" fill="none" stroke="#000" stroke-width="5.4" stroke-linecap="round" stroke-linejoin="round"/>
<path d="M1553.50,303.50 C1551.35,303.77 1544.72,303.93 1540.60,305.10 C1536.48,306.27 1531.77,308.45 1528.80,310.50 C1525.83,312.55 1522.98,315.08 1522.80,317.40 C1522.62,319.72 1524.73,322.33 1527.70,324.40 C1530.67,326.47 1536.12,328.80 1540.60,329.80 C1545.08,330.80 1551.47,329.87 1554.60,330.40 C1557.73,330.93 1559.05,331.48 1559.40,333.00 C1559.75,334.52 1558.03,337.70 1556.70,339.50 C1555.37,341.30 1554.45,342.82 1551.40,343.80 C1548.35,344.78 1542.35,344.32 1538.40,345.40 C1534.45,346.48 1530.47,347.87 1527.70,350.30 C1524.93,352.73 1521.98,357.13 1521.80,360.00 C1521.62,362.87 1523.83,365.80 1526.60,367.50 C1529.37,369.20 1534.45,369.93 1538.40,370.20 C1542.35,370.47 1547.33,367.58 1550.30,369.10 C1553.27,370.62 1556.20,375.80 1556.20,379.30 C1556.20,382.80 1553.62,387.77 1550.30,390.10 C1546.98,392.43 1540.07,392.32 1536.30,393.30 C1532.53,394.28 1529.95,394.20 1527.70,396.00 C1525.45,397.80 1522.98,401.13 1522.80,404.10 C1522.62,407.07 1524.53,411.55 1526.60,413.80 C1528.67,416.05 1531.25,417.33 1535.20,417.60 C1539.15,417.87 1546.72,414.78 1550.30,415.40 C1553.88,416.02 1555.45,419.20 1556.70,421.30 C1557.95,423.40 1557.88,425.53 1557.80,428.00 C1557.72,430.47 1557.45,433.75 1556.20,436.10 C1554.95,438.45 1553.80,440.93 1550.30,442.10 C1546.80,443.27 1539.15,442.48 1535.20,443.10 C1531.25,443.72 1528.67,443.92 1526.60,445.80 C1524.53,447.68 1522.80,451.17 1522.80,454.40 C1522.80,457.63 1524.53,462.87 1526.60,465.20 C1528.67,467.53 1531.62,468.03 1535.20,468.40 C1538.78,468.77 1544.42,465.78 1548.10,467.40 C1551.78,469.02 1556.75,474.52 1557.30,478.10 C1557.85,481.68 1554.18,486.65 1551.40,488.90 C1548.62,491.15 1544.20,491.25 1540.60,491.60 C1537.00,491.95 1532.93,489.30 1529.80,491.00 C1526.67,492.70 1522.15,498.38 1521.80,501.80 C1521.45,505.22 1525.28,509.62 1527.70,511.50 C1530.12,513.38 1533.08,513.47 1536.30,513.10 C1539.52,512.73 1544.32,508.67 1547.00,509.30 C1549.68,509.93 1552.03,513.85 1552.40,516.90 C1552.77,519.95 1551.17,525.00 1549.20,527.60 C1547.23,530.20 1544.37,532.13 1540.60,532.50 C1536.83,532.87 1530.37,529.53 1526.60,529.80 C1522.83,530.07 1519.88,531.77 1518.00,534.10 C1516.12,536.43 1515.30,540.75 1515.30,543.80 C1515.30,546.85 1516.30,550.60 1518.00,552.40 C1519.70,554.20 1522.72,554.68 1525.50,554.60 C1528.28,554.52 1533.17,552.35 1534.70,551.90" fill="none" stroke="#000" stroke-width="5.4" stroke-linecap="round" stroke-linejoin="round"/>
<path d="M1534.70,725.10 C1533.35,725.27 1529.12,724.85 1526.60,726.10 C1524.08,727.35 1521.03,730.27 1519.60,732.60 C1518.17,734.93 1517.55,737.68 1518.00,740.10 C1518.45,742.52 1519.78,745.65 1522.30,747.10 C1524.82,748.55 1529.33,748.88 1533.10,748.80 C1536.87,748.72 1542.03,746.07 1544.90,746.60 C1547.77,747.13 1549.22,749.85 1550.30,752.00 C1551.38,754.15 1551.77,756.82 1551.40,759.50 C1551.03,762.18 1549.90,766.03 1548.10,768.10 C1546.30,770.17 1544.18,771.08 1540.60,771.90 C1537.02,772.72 1530.10,771.83 1526.60,773.00 C1523.10,774.17 1521.03,776.67 1519.60,778.90 C1518.17,781.13 1517.55,783.88 1518.00,786.40 C1518.45,788.92 1519.97,792.20 1522.30,794.00 C1524.63,795.80 1527.70,797.03 1532.00,797.20 C1536.30,797.37 1544.78,794.28 1548.10,795.00 C1551.42,795.72 1551.08,798.98 1551.90,801.50 C1552.72,804.02 1553.27,807.23 1553.00,810.10 C1552.73,812.97 1551.83,816.72 1550.30,818.70 C1548.77,820.68 1547.38,821.37 1543.80,822.00 C1540.22,822.63 1532.65,821.62 1528.80,822.50 C1524.95,823.38 1522.42,825.07 1520.70,827.30 C1518.98,829.53 1518.23,833.13 1518.50,835.90 C1518.77,838.67 1520.42,841.95 1522.30,843.90 C1524.18,845.85 1526.03,847.17 1529.80,847.60 C1533.57,848.03 1541.30,845.80 1544.90,846.50 C1548.50,847.20 1550.05,849.65 1551.40,851.80 C1552.75,853.95 1553.37,856.88 1553.00,859.40 C1552.63,861.92 1550.92,865.02 1549.20,866.90 C1547.48,868.78 1546.28,870.33 1542.70,870.70 C1539.12,871.07 1531.55,868.65 1527.70,869.10 C1523.85,869.55 1521.40,871.43 1519.60,873.40 C1517.80,875.37 1516.63,878.40 1516.90,880.90 C1517.17,883.40 1519.05,886.60 1521.20,888.40 C1523.35,890.20 1525.85,891.70 1529.80,891.70 C1533.75,891.70 1541.75,887.33 1544.90,888.40 C1548.05,889.47 1548.70,894.87 1548.70,898.10 C1548.70,901.33 1546.97,905.47 1544.90,907.80 C1542.83,910.13 1540.25,912.10 1536.30,912.10 C1532.35,912.10 1525.07,907.62 1521.20,907.80 C1517.33,907.98 1514.88,910.50 1513.10,913.20 C1511.32,915.90 1510.22,920.58 1510.50,924.00 C1510.78,927.42 1512.65,932.08 1514.80,933.70 C1516.95,935.32 1518.92,934.78 1523.40,933.70 C1527.88,932.62 1537.85,927.03 1541.70,927.20 C1545.55,927.37 1545.97,932.18 1546.50,934.70 C1547.03,937.22 1546.60,939.78 1544.90,942.30 C1543.20,944.82 1540.43,948.28 1536.30,949.80 C1532.17,951.32 1523.52,950.32 1520.10,951.40 C1516.68,952.48 1516.52,954.60 1515.80,956.30 C1515.08,958.00 1514.90,959.63 1515.80,961.60 C1516.70,963.57 1518.32,967.20 1521.20,968.10 C1524.08,969.00 1529.15,968.43 1533.10,967.00 C1537.05,965.57 1542.93,960.75 1544.90,959.50" fill="none" stroke="#000" stroke-width="5.4" stroke-linecap="round" stroke-linejoin="round"/>
<line x1="447.50" y1="112.50" x2="1592.50" y2="112.50" stroke="#000" stroke-width="5.0" stroke-linecap="butt" />
<line x1="467.20" y1="92.50" x2="467.20" y2="132.50" stroke="#000" stroke-width="4.8" stroke-linecap="butt" />
<line x1="455.60" y1="124.10" x2="478.80" y2="100.90" stroke="#000" stroke-width="5.5" stroke-linecap="round" />
<line x1="834.30" y1="92.50" x2="834.30" y2="132.50" stroke="#000" stroke-width="4.8" stroke-linecap="butt" />
<line x1="822.70" y1="124.10" x2="845.90" y2="100.90" stroke="#000" stroke-width="5.5" stroke-linecap="round" />
<line x1="1572.80" y1="92.50" x2="1572.80" y2="132.50" stroke="#000" stroke-width="4.8" stroke-linecap="butt" />
<line x1="1561.20" y1="124.10" x2="1584.40" y2="100.90" stroke="#000" stroke-width="5.5" stroke-linecap="round" />
<text transform="translate(650.00,110.20) scale(0.685,1)" text-anchor="middle" font-size="34" stroke="#000" stroke-width="0.5">157</text>
<text transform="translate(1203.00,110.20) scale(0.685,1)" text-anchor="middle" font-size="34" stroke="#000" stroke-width="0.5">312</text>
<line x1="660.00" y1="1216.00" x2="1592.50" y2="1216.00" stroke="#000" stroke-width="5.0" stroke-linecap="butt" />
<line x1="679.50" y1="1196.00" x2="679.50" y2="1236.00" stroke="#000" stroke-width="4.8" stroke-linecap="butt" />
<line x1="667.90" y1="1227.60" x2="691.10" y2="1204.40" stroke="#000" stroke-width="5.5" stroke-linecap="round" />
<line x1="817.70" y1="1196.00" x2="817.70" y2="1236.00" stroke="#000" stroke-width="4.8" stroke-linecap="butt" />
<line x1="806.10" y1="1227.60" x2="829.30" y2="1204.40" stroke="#000" stroke-width="5.5" stroke-linecap="round" />
<line x1="877.70" y1="1196.00" x2="877.70" y2="1236.00" stroke="#000" stroke-width="4.8" stroke-linecap="butt" />
<line x1="866.10" y1="1227.60" x2="889.30" y2="1204.40" stroke="#000" stroke-width="5.5" stroke-linecap="round" />
<line x1="1573.00" y1="1196.00" x2="1573.00" y2="1236.00" stroke="#000" stroke-width="4.8" stroke-linecap="butt" />
<line x1="1561.40" y1="1227.60" x2="1584.60" y2="1204.40" stroke="#000" stroke-width="5.5" stroke-linecap="round" />
<text transform="translate(748.00,1213.70) scale(0.685,1)" text-anchor="middle" font-size="34" stroke="#000" stroke-width="0.5">58</text>
<text transform="translate(847.50,1213.70) scale(0.685,1)" text-anchor="middle" font-size="34" stroke="#000" stroke-width="0.5">25</text>
<text transform="translate(1224.00,1213.70) scale(0.685,1)" text-anchor="middle" font-size="34" stroke="#000" stroke-width="0.5">294</text>
<line x1="355.30" y1="271.00" x2="355.30" y2="1093.00" stroke="#000" stroke-width="5.0" stroke-linecap="butt" />
<line x1="335.30" y1="290.50" x2="375.30" y2="290.50" stroke="#000" stroke-width="4.8" stroke-linecap="butt" />
<line x1="343.70" y1="278.90" x2="366.90" y2="302.10" stroke="#000" stroke-width="5.5" stroke-linecap="round" />
<line x1="335.30" y1="1075.00" x2="375.30" y2="1075.00" stroke="#000" stroke-width="4.8" stroke-linecap="butt" />
<line x1="343.70" y1="1063.40" x2="366.90" y2="1086.60" stroke="#000" stroke-width="5.5" stroke-linecap="round" />
<text transform="translate(350.80,682.50) rotate(-90) scale(0.685,1)" text-anchor="middle" font-size="34" stroke="#000" stroke-width="0.5">351</text>
<line x1="1741.70" y1="273.00" x2="1741.70" y2="1006.00" stroke="#000" stroke-width="5.0" stroke-linecap="butt" />
<line x1="1721.70" y1="292.00" x2="1761.70" y2="292.00" stroke="#000" stroke-width="4.8" stroke-linecap="butt" />
<line x1="1730.10" y1="280.40" x2="1753.30" y2="303.60" stroke="#000" stroke-width="5.5" stroke-linecap="round" />
<line x1="1721.70" y1="500.70" x2="1761.70" y2="500.70" stroke="#000" stroke-width="4.8" stroke-linecap="butt" />
<line x1="1730.10" y1="489.10" x2="1753.30" y2="512.30" stroke="#000" stroke-width="5.5" stroke-linecap="round" />
<line x1="1721.70" y1="779.00" x2="1761.70" y2="779.00" stroke="#000" stroke-width="4.8" stroke-linecap="butt" />
<line x1="1730.10" y1="767.40" x2="1753.30" y2="790.60" stroke="#000" stroke-width="5.5" stroke-linecap="round" />
<line x1="1721.70" y1="988.00" x2="1761.70" y2="988.00" stroke="#000" stroke-width="4.8" stroke-linecap="butt" />
<line x1="1730.10" y1="976.40" x2="1753.30" y2="999.60" stroke="#000" stroke-width="5.5" stroke-linecap="round" />
<text transform="translate(1739.20,395.50) rotate(-90) scale(0.685,1)" text-anchor="middle" font-size="34" stroke="#000" stroke-width="0.5">88</text>
<text transform="translate(1739.20,638.50) rotate(-90) scale(0.685,1)" text-anchor="middle" font-size="34" stroke="#000" stroke-width="0.5">118</text>
<text transform="translate(1739.20,883.00) rotate(-90) scale(0.685,1)" text-anchor="middle" font-size="34" stroke="#000" stroke-width="0.5">88</text>
<line x1="773.00" y1="967.50" x2="773.00" y2="1094.50" stroke="#000" stroke-width="5.2" stroke-linecap="butt" />
<line x1="753.00" y1="987.20" x2="793.00" y2="987.20" stroke="#000" stroke-width="4.8" stroke-linecap="butt" />
<line x1="761.40" y1="975.60" x2="784.60" y2="998.80" stroke="#000" stroke-width="5.5" stroke-linecap="round" />
<line x1="753.00" y1="1047.20" x2="793.00" y2="1047.20" stroke="#000" stroke-width="4.8" stroke-linecap="butt" />
<line x1="761.40" y1="1035.60" x2="784.60" y2="1058.80" stroke="#000" stroke-width="5.5" stroke-linecap="round" />
<line x1="761.40" y1="1063.90" x2="784.60" y2="1087.10" stroke="#000" stroke-width="5.5" stroke-linecap="round" />
<text transform="translate(770.00,1017.80) rotate(-90) scale(0.685,1)" text-anchor="middle" font-size="34" stroke="#000" stroke-width="0.5">25</text>
<text transform="translate(770.00,1072.30) rotate(-90) scale(0.685,1)" text-anchor="middle" font-size="34" stroke="#000" stroke-width="0.5">13</text>
<line x1="872.00" y1="334.60" x2="1518.00" y2="334.60" stroke="#000" stroke-width="4.8" stroke-linecap="butt" />
<line x1="879.90" y1="346.20" x2="903.10" y2="323.00" stroke="#000" stroke-width="5.5" stroke-linecap="round" />
<line x1="1209.90" y1="346.20" x2="1233.10" y2="323.00" stroke="#000" stroke-width="5.5" stroke-linecap="round" />
<line x1="1233.90" y1="346.20" x2="1257.10" y2="323.00" stroke="#000" stroke-width="5.5" stroke-linecap="round" />
<line x1="1486.40" y1="346.20" x2="1509.60" y2="323.00" stroke="#000" stroke-width="5.5" stroke-linecap="round" />
<line x1="945.00" y1="273.00" x2="945.00" y2="467.00" stroke="#000" stroke-width="4.8" stroke-linecap="butt" />
<line x1="933.40" y1="279.40" x2="956.60" y2="302.60" stroke="#000" stroke-width="5.5" stroke-linecap="round" />
<line x1="933.40" y1="435.90" x2="956.60" y2="459.10" stroke="#000" stroke-width="5.5" stroke-linecap="round" />
<text transform="translate(1055.50,332.30) scale(0.685,1)" text-anchor="middle" font-size="34" stroke="#000" stroke-width="0.5">142</text>
<text transform="translate(942.40,369.50) rotate(-90) scale(0.685,1)" text-anchor="middle" font-size="34" stroke="#000" stroke-width="0.5">66</text>
<line x1="1302.00" y1="272.00" x2="1302.00" y2="441.00" stroke="#000" stroke-width="4.8" stroke-linecap="butt" />
<line x1="1290.40" y1="279.40" x2="1313.60" y2="302.60" stroke="#000" stroke-width="5.5" stroke-linecap="round" />
<line x1="1290.40" y1="410.40" x2="1313.60" y2="433.60" stroke="#000" stroke-width="5.5" stroke-linecap="round" />
<text transform="translate(1370.00,332.30) scale(0.685,1)" text-anchor="middle" font-size="34" stroke="#000" stroke-width="0.5">107</text>
<text transform="translate(1298.30,356.00) rotate(-90) scale(0.685,1)" text-anchor="middle" font-size="34" stroke="#000" stroke-width="0.5">55</text>
<line x1="955.80" y1="505.20" x2="1184.50" y2="505.20" stroke="#000" stroke-width="4.8" stroke-linecap="butt" />
<line x1="962.90" y1="516.80" x2="986.10" y2="493.60" stroke="#000" stroke-width="5.5" stroke-linecap="round" />
<line x1="1152.40" y1="516.80" x2="1175.60" y2="493.60" stroke="#000" stroke-width="5.5" stroke-linecap="round" />
<text transform="translate(1069.00,502.00) scale(0.685,1)" text-anchor="middle" font-size="34" stroke="#000" stroke-width="0.5">80</text>
<line x1="448.00" y1="503.50" x2="585.00" y2="503.50" stroke="#000" stroke-width="4.8" stroke-linecap="butt" />
<line x1="455.90" y1="515.10" x2="479.10" y2="491.90" stroke="#000" stroke-width="5.5" stroke-linecap="round" />
<line x1="554.40" y1="515.10" x2="577.60" y2="491.90" stroke="#000" stroke-width="5.5" stroke-linecap="round" />
<line x1="509.00" y1="439.00" x2="509.00" y2="671.00" stroke="#000" stroke-width="4.8" stroke-linecap="butt" />
<line x1="497.40" y1="446.90" x2="520.60" y2="470.10" stroke="#000" stroke-width="5.5" stroke-linecap="round" />
<line x1="497.40" y1="640.90" x2="520.60" y2="664.10" stroke="#000" stroke-width="5.5" stroke-linecap="round" />
<text transform="translate(515.50,501.00) scale(0.685,1)" text-anchor="middle" font-size="34" stroke="#000" stroke-width="0.5">42</text>
<text transform="translate(505.00,556.00) rotate(-90) scale(0.685,1)" text-anchor="middle" font-size="34" stroke="#000" stroke-width="0.5">82</text>
<line x1="463.00" y1="722.10" x2="611.50" y2="722.10" stroke="#000" stroke-width="4.8" stroke-linecap="butt" />
<line x1="470.90" y1="733.70" x2="494.10" y2="710.50" stroke="#000" stroke-width="5.5" stroke-linecap="round" />
<line x1="581.90" y1="733.70" x2="605.10" y2="710.50" stroke="#000" stroke-width="5.5" stroke-linecap="round" />
<text transform="translate(535.00,718.20) scale(0.685,1)" text-anchor="middle" font-size="34" stroke="#000" stroke-width="0.5">46</text>
<line x1="479.50" y1="786.80" x2="709.00" y2="786.80" stroke="#000" stroke-width="4.8" stroke-linecap="butt" />
<line x1="487.70" y1="798.40" x2="510.90" y2="775.20" stroke="#000" stroke-width="5.5" stroke-linecap="round" />
<line x1="678.10" y1="798.40" x2="701.30" y2="775.20" stroke="#000" stroke-width="5.5" stroke-linecap="round" />
<text transform="translate(595.00,783.50) scale(0.685,1)" text-anchor="middle" font-size="34" stroke="#000" stroke-width="0.5">80</text>
<line x1="1131.00" y1="703.00" x2="1407.50" y2="703.00" stroke="#000" stroke-width="4.8" stroke-linecap="butt" />
<line x1="1138.90" y1="714.60" x2="1162.10" y2="691.40" stroke="#000" stroke-width="5.5" stroke-linecap="round" />
<line x1="1377.40" y1="714.60" x2="1400.60" y2="691.40" stroke="#000" stroke-width="5.5" stroke-linecap="round" />
<text transform="translate(1268.00,700.00) scale(0.685,1)" text-anchor="middle" font-size="34" stroke="#000" stroke-width="0.5">100</text>
<line x1="957.00" y1="869.00" x2="1493.00" y2="869.00" stroke="#000" stroke-width="4.8" stroke-linecap="butt" />
<line x1="964.90" y1="880.60" x2="988.10" y2="857.40" stroke="#000" stroke-width="5.5" stroke-linecap="round" />
<line x1="1461.90" y1="880.60" x2="1485.10" y2="857.40" stroke="#000" stroke-width="5.5" stroke-linecap="round" />
<line x1="1056.00" y1="732.00" x2="1056.00" y2="1006.00" stroke="#000" stroke-width="4.8" stroke-linecap="butt" />
<line x1="1044.40" y1="739.40" x2="1067.60" y2="762.60" stroke="#000" stroke-width="5.5" stroke-linecap="round" />
<line x1="1044.40" y1="975.40" x2="1067.60" y2="998.60" stroke="#000" stroke-width="5.5" stroke-linecap="round" />
<text transform="translate(1224.00,861.50) scale(0.685,1)" text-anchor="middle" font-size="34" stroke="#000" stroke-width="0.5">206,5</text>
<text transform="translate(1049.30,869.00) rotate(-90) scale(0.685,1)" text-anchor="middle" font-size="34" stroke="#000" stroke-width="0.5">94,5</text>
</svg>
</body></html>
